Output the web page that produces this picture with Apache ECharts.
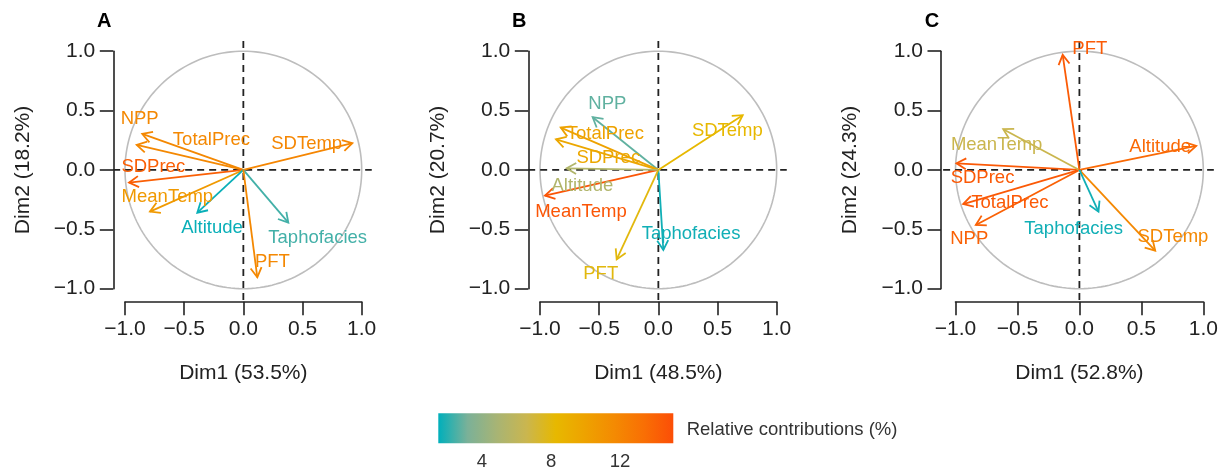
<!DOCTYPE html>
<html><head><meta charset="utf-8">
<script src="https://cdn.jsdelivr.net/npm/echarts@6/dist/echarts.min.js"></script>
<style>html,body{margin:0;padding:0;background:#fff}#c{width:1225px;height:472px}</style>
</head><body><div id="c"></div>
<script>
// ---------------- DATA ----------------
const variables = ['NPP','TotalPrec','SDTemp','SDPrec','MeanTemp','Altitude','Taphofacies','PFT'];
const panelLetters = ['A','B','C'];
const dim1Titles = ['Dim1 (53.5%)','Dim1 (48.5%)','Dim1 (52.8%)'];
const dim2Titles = ['Dim2 (18.2%)','Dim2 (20.7%)','Dim2 (24.3%)'];

// Panel A
const dim1A = [-0.854, -0.901, 0.921, -0.966, -0.789, -0.389, 0.380, 0.118];
const dim2A = [ 0.303,  0.211, 0.225, -0.107, -0.351, -0.360, -0.444, -0.904];
const contribA = [11.8, 11.8, 11.9, 14.2, 10.6, 1.6, 2.4, 11.8];
const labelXA = [-0.876, -0.270, 0.535, -0.761, -0.642, -0.265, 0.628, 0.245];
const labelYA = [ 0.427,  0.253, 0.216,  0.028, -0.225, -0.492, -0.576, -0.778];

// Panel B
const dim1B = [-0.555, -0.825, 0.713, -0.865, -0.958, -0.775, 0.042, -0.352];
const dim2B = [ 0.444,  0.357, 0.461,  0.258, -0.216,  0.014, -0.674, -0.753];
const contribB = [2.8, 10.0, 8.3, 9.6, 14.7, 5.3, 1.7, 8.0];
const labelXB = [-0.431, -0.448, 0.583, -0.423, -0.654, -0.642, 0.276, -0.487];
const labelYB = [ 0.556,  0.303, 0.331,  0.098, -0.351, -0.135, -0.539, -0.879];

// Panel C
const dim1C = [-0.836, -0.938, 0.612, -0.992, -0.615, 0.943, 0.154, -0.135];
const dim2C = [-0.463, -0.287, -0.680, 0.056, 0.343, 0.202, -0.351, 0.969];
const contribC = [14.1, 14.5, 11.8, 14.5, 6.6, 13.7, 1.7, 14.4];
const labelXC = [-0.889, -0.561, 0.755, -0.782, -0.668, 0.652, -0.046, 0.084];
const labelYC = [-0.584, -0.275, -0.567, -0.070, 0.211, 0.197, -0.497, 1.017];

const legendTicks = [4, 8, 12];
const contribMin = 1.47, contribMax = 15.08;
const legendTitle = 'Relative contributions (%)';
// teal -> yellow -> red, sampled in Lab space like ggplot's gradient
const gradientColors = ['#00AFBB','#7BB198','#A8B474','#CAB64F','#E7B800','#EEA200','#F48A02','#F96F04','#FC4E07'];

// ---------------- BUILD ----------------
const panelsData = [
  [dim1A, dim2A, contribA, labelXA, labelYA],
  [dim1B, dim2B, contribB, labelXB, labelYB],
  [dim1C, dim2C, contribC, labelXC, labelYC]
];
const layout = [
  {left:125.0, width:236.7, yOff:11.7, letterX:104.3},
  {left:540.0, width:236.7, yOff:11.7, letterX:519.3},
  {left:955.5, width:247.8, yOff:14.5, letterX:932.0}
];
const GTOP = 51.2, GH = 237.5;
const FONT = '"Liberation Sans", Arial, sans-serif';
const AX = '#222';

function fmt(v){ return (v < 0 ? '\u2212' : '') + Math.abs(v).toFixed(1); }

function renderFrame(params, api){
  const pts = [];
  for (let i = 0; i <= 180; i++){
    const t = i / 180 * Math.PI * 2;
    pts.push(api.coord([Math.cos(t), Math.sin(t)]));
  }
  const h1 = api.coord([-1.1, 0]), h2 = api.coord([1.085, 0]);
  const v1 = api.coord([0, 1.085]), v2 = api.coord([0, -1.11]);
  const dash = {stroke:'#222', lineWidth:1.8, lineDash:[7,5]};
  return {type:'group', children:[
    {type:'polyline', shape:{points:pts}, style:{stroke:'#BDBDBD', lineWidth:1.6, fill:null}},
    {type:'line', shape:{x1:h1[0],y1:h1[1],x2:h2[0],y2:h2[1]}, style:dash},
    {type:'line', shape:{x1:v1[0],y1:v1[1],x2:v2[0],y2:v2[1]}, style:dash}
  ]};
}
function renderArrow(params, api){
  const p0 = api.coord([0,0]), p1 = api.coord([api.value(0), api.value(1)]);
  const color = api.visual('color');
  const ang = Math.atan2(p1[1]-p0[1], p1[0]-p0[0]);
  const L = 11, a = Math.PI/6;
  const h1 = [p1[0]-L*Math.cos(ang-a), p1[1]-L*Math.sin(ang-a)];
  const h2 = [p1[0]-L*Math.cos(ang+a), p1[1]-L*Math.sin(ang+a)];
  return {type:'group', children:[
    {type:'line', shape:{x1:p0[0],y1:p0[1],x2:p1[0],y2:p1[1]}, style:{stroke:color, lineWidth:1.8}},
    {type:'polyline', shape:{points:[h1,p1,h2]}, style:{stroke:color, lineWidth:1.8, fill:null}}
  ]};
}
function renderLabel(params, api){
  const p = api.coord([api.value(3), api.value(4)]);
  return {type:'text', x:p[0], y:p[1], style:{text: variables[params.dataIndex], fill: api.visual('color'),
    font: '18.5px ' + FONT, align:'center', verticalAlign:'middle'}};
}

const grid = [], xAxis = [], yAxis = [], series = [], graphic = [], vmSeries = [];
panelsData.forEach((pd, p) => {
  const L = layout[p];
  grid.push({left:L.left, top:GTOP, width:L.width, height:GH, containLabel:false, outerBoundsMode:'none'});
  const common = {
    type:'value', min:-1, max:1, interval:0.5, gridIndex:p,
    axisLine:{show:true, onZero:false, lineStyle:{color:AX, width:1.6}},
    axisTick:{show:true, length:13.5, lineStyle:{color:AX, width:1.6}},
    splitLine:{show:false},
    nameLocation:'middle',
    nameTextStyle:{fontSize:21, color:AX, fontFamily:FONT}
  };
  xAxis.push(Object.assign({}, common, {position:'bottom', offset:13, name:dim1Titles[p], nameGap:61,
    axisLabel:{fontSize:21, color:AX, margin:17, formatter:fmt, fontFamily:FONT}}));
  yAxis.push(Object.assign({}, common, {position:'left', offset:L.yOff, name:dim2Titles[p], nameGap:80, nameRotate:90,
    axisLabel:{fontSize:21, color:AX, margin:18, formatter:fmt, fontFamily:FONT}}));
  const rows = variables.map((v, i) => ({name:v, value:[pd[0][i], pd[1][i], pd[2][i], pd[3][i], pd[4][i]]}));
  series.push({type:'custom', xAxisIndex:p, yAxisIndex:p, clip:false, silent:true, renderItem:renderFrame,
    data:[[0,0]], encode:{x:0, y:1}, z:1});
  vmSeries.push(series.length);
  series.push({type:'custom', xAxisIndex:p, yAxisIndex:p, clip:false, silent:true, renderItem:renderArrow,
    data:rows, encode:{x:0, y:1}, z:2});
  vmSeries.push(series.length);
  series.push({type:'custom', xAxisIndex:p, yAxisIndex:p, clip:false, silent:true, renderItem:renderLabel,
    data:rows, encode:{x:0, y:1}, z:3});
  graphic.push({type:'text', x:L.letterX, y:21.3, style:{text:panelLetters[p], align:'center', verticalAlign:'middle',
    font:'bold 20px ' + FONT, fill:'#000'}});
});

// legend colour bar
grid.push({left:438.3, top:413.3, width:235, height:30, containLabel:false, outerBoundsMode:'none'});
xAxis.push({type:'value', gridIndex:3, min:contribMin, max:contribMax,
  axisLine:{show:false}, axisTick:{show:false}, splitLine:{show:false},
  axisLabel:{customValues:legendTicks, fontSize:18.5, color:'#333', margin:9, fontFamily:FONT}});
yAxis.push({type:'value', gridIndex:3, min:0, max:1, show:false});
series.push({type:'custom', xAxisIndex:3, yAxisIndex:3, clip:false, silent:true, data:[[contribMin, contribMax]],
  encode:{x:[0,1]},
  renderItem:function(params, api){
    const a = api.coord([api.value(0), 1]), b = api.coord([api.value(1), 0]);
    const stops = gradientColors.map((c, i) => ({offset:i/(gradientColors.length-1), color:c}));
    return {type:'rect', shape:{x:a[0], y:a[1], width:b[0]-a[0], height:b[1]-a[1]},
      style:{fill:new echarts.graphic.LinearGradient(0,0,1,0,stops)}};
  }});
graphic.push({type:'text', x:686.7, y:430, style:{text:legendTitle, align:'left', verticalAlign:'middle',
  font:'18.5px ' + FONT, fill:'#333'}});

const chart = echarts.init(document.getElementById('c'), null, {renderer:'canvas'});
chart.setOption({
  animation:false,
  backgroundColor:'#fff',
  textStyle:{fontFamily:FONT},
  grid, xAxis, yAxis, series, graphic,
  visualMap:[{type:'continuous', show:false, min:contribMin, max:contribMax, dimension:2,
    seriesIndex:vmSeries, inRange:{color:gradientColors}}]
});
</script></body></html>
